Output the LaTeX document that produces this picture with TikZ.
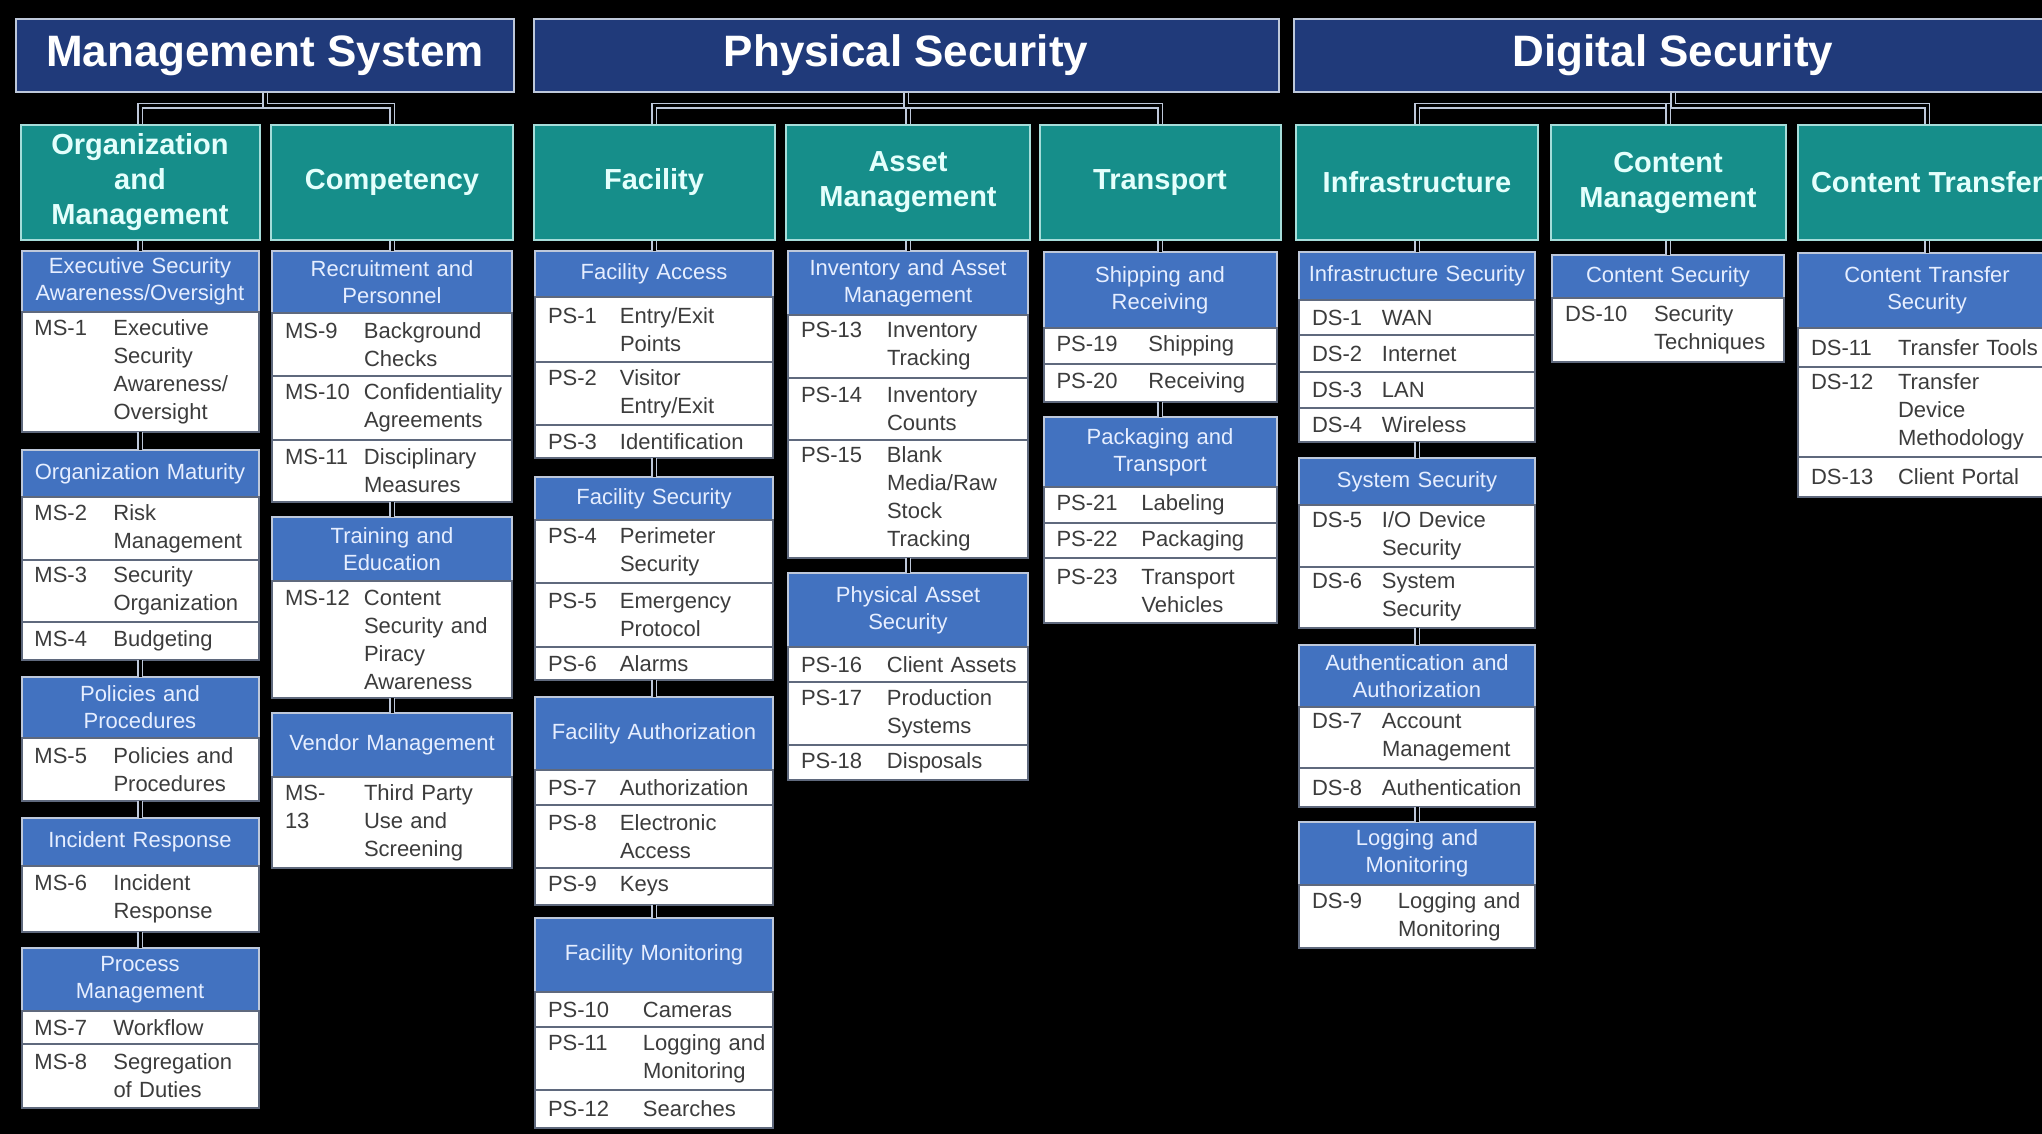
\documentclass[tikz,border=0pt]{standalone}
\usepackage{fontspec}
\setmainfont{Liberation Sans}
\usetikzlibrary{positioning}

\definecolor{navy}{RGB}{32,58,122}
\definecolor{rim}{RGB}{190,200,218}
\definecolor{areateal}{RGB}{22,142,138}
\definecolor{areatext}{RGB}{228,255,252}
\definecolor{subblue}{RGB}{66,114,192}
\definecolor{subtext}{RGB}{230,238,255}
\definecolor{rowline}{RGB}{95,105,125}
\definecolor{rowtext}{RGB}{60,60,60}

% control row: id column (#1 wide, from the box edge), then its text
\newcommand{\itm}[3]{\parbox[t]{#1pt}{\leftskip=13pt\relax #2}%
  \parbox[t]{\dimexpr\hsize-#1pt-4pt\relax}{\raggedright #3}}

\begin{document}
\begin{tikzpicture}[x=1pt, y=-1pt,
    topbox/.style={draw=rim, line width=2, fill=navy, text=white, anchor=north,
      inner ysep=0, minimum height=73, font=\fontsize{44}{50}\selectfont\bfseries},
    areabox/.style={draw=areatext!70!areateal, line width=2, fill=areateal, text=areatext,
      anchor=north, inner ysep=2, minimum height=115, align=center,
      font=\fontsize{29}{35}\selectfont\bfseries},
    subhead/.style={draw=rim, line width=2, fill=subblue, text=subtext, anchor=north,
      outer sep=0, inner xsep=0, inner ysep=2, text width=\colw, align=center,
      font=\fontsize{22}{27}\selectfont},
    ctlrow/.style={draw=rowline, line width=2, fill=white, text=rowtext,
      outer sep=0, inner xsep=0, inner ysep=2, text width=\colw,
      font=\fontsize{22}{28}\selectfont},
    wire/.style={draw=rim, line width=1.5, double=black, double distance=3},
  ]
  \useasboundingbox (0,0) rectangle (2042,1134);
  \clip (0,0) rectangle (2042,1134);
  \fill[black] (0,0) rectangle (2042,1134);

  % Areas
  \node[topbox, minimum width=498] (ms) at (265,18) {Management System};
  \node[topbox, minimum width=745] (ps) at (906,18) {Physical Security};
  \node[topbox, minimum width=758] (ds) at (1673,18) {Digital Security};

  % Organization and Management
  \begin{scope}[xshift=140]
    \def\colw{237pt}
    \node[areabox, minimum width=239] (orgm) at (0,124) {Organization\\and\\Management};
    \node[subhead, minimum height=61, alias=esa-0] (esa) at (0,251) {Executive Security\\Awareness/Oversight};
    \foreach \id/\txt/\h [count=\i, remember=\i as \p (initially 0)] in
      {MS-1/{Executive\\Security\\Awareness/\\Oversight}/120} {
        \node[ctlrow, minimum height=\h, below=0pt of esa-\p] (esa-\i) {\itm{92}{\id}{\txt}};
      }
    \node[subhead, minimum height=47, alias=orm-0] (orm) at (0,450) {Organization Maturity};
    \foreach \id/\txt/\h [count=\i, remember=\i as \p (initially 0)] in
      {MS-2/{Risk\\Management}/63, MS-3/{Security\\Organization}/62, MS-4/Budgeting/38} {
        \node[ctlrow, minimum height=\h, below=0pt of orm-\p] (orm-\i) {\itm{92}{\id}{\txt}};
      }
    \node[subhead, minimum height=61, alias=pp-0] (pp) at (0,677) {Policies and\\Procedures};
    \foreach \id/\txt/\h [count=\i, remember=\i as \p (initially 0)] in
      {MS-5/{Policies and\\Procedures}/63} {
        \node[ctlrow, minimum height=\h, below=0pt of pp-\p] (pp-\i) {\itm{92}{\id}{\txt}};
      }
    \node[subhead, minimum height=48, alias=ir-0] (ir) at (0,818) {Incident Response};
    \foreach \id/\txt/\h [count=\i, remember=\i as \p (initially 0)] in
      {MS-6/{Incident\\Response}/66} {
        \node[ctlrow, minimum height=\h, below=0pt of ir-\p] (ir-\i) {\itm{92}{\id}{\txt}};
      }
    \node[subhead, minimum height=63, alias=pm-0] (pm) at (0,948) {Process\\Management};
    \foreach \id/\txt/\h [count=\i, remember=\i as \p (initially 0)] in
      {MS-7/Workflow/33, MS-8/{Segregation\\of Duties}/64} {
        \node[ctlrow, minimum height=\h, below=0pt of pm-\p] (pm-\i) {\itm{92}{\id}{\txt}};
      }
  \end{scope}

  % Competency
  \begin{scope}[xshift=392]
    \def\colw{240pt}
    \node[areabox, minimum width=242] (comp) at (0,124) {Competency};
    \node[subhead, minimum height=62, alias=rp-0] (rp) at (0,251) {Recruitment and\\Personnel};
    \foreach \id/\txt/\h [count=\i, remember=\i as \p (initially 0)] in
      {MS-9/{Background\\Checks}/63, MS-10/{Confidentiality\\Agreements}/64,
       MS-11/{Disciplinary\\Measures}/62} {
        \node[ctlrow, minimum height=\h, below=0pt of rp-\p] (rp-\i) {\itm{92}{\id}{\txt}};
      }
    \node[subhead, minimum height=64, alias=te-0] (te) at (0,517) {Training and\\Education};
    \foreach \id/\txt/\h [count=\i, remember=\i as \p (initially 0)] in
      {MS-12/{Content\\Security and\\Piracy\\Awareness}/117} {
        \node[ctlrow, minimum height=\h, below=0pt of te-\p] (te-\i) {\itm{92}{\id}{\txt}};
      }
    \node[subhead, minimum height=64, alias=vm-0] (vm) at (0,713) {Vendor Management};
    \foreach \id/\txt/\h [count=\i, remember=\i as \p (initially 0)] in
      {{MS-\\13}/{Third Party\\Use and\\Screening}/91} {
        \node[ctlrow, minimum height=\h, below=0pt of vm-\p] (vm-\i) {\itm{92}{\id}{\txt}};
      }
  \end{scope}

  % Facility
  \begin{scope}[xshift=654]
    \def\colw{238pt}
    \node[areabox, minimum width=241] (facil) at (0,124) {Facility};
    \node[subhead, minimum height=46, alias=fac-0] (fac) at (0,251) {Facility Access};
    \foreach \id/\txt/\h [count=\i, remember=\i as \p (initially 0)] in
      {PS-1/{Entry/Exit\\Points}/65, PS-2/{Visitor\\Entry/Exit}/63, PS-3/Identification/33} {
        \node[ctlrow, minimum height=\h, below=0pt of fac-\p] (fac-\i) {\itm{85}{\id}{\txt}};
      }
    \node[subhead, minimum height=43, alias=fs-0] (fs) at (0,477) {Facility Security};
    \foreach \id/\txt/\h [count=\i, remember=\i as \p (initially 0)] in
      {PS-4/{Perimeter\\Security}/63, PS-5/{Emergency\\Protocol}/64, PS-6/Alarms/33} {
        \node[ctlrow, minimum height=\h, below=0pt of fs-\p] (fs-\i) {\itm{85}{\id}{\txt}};
      }
    \node[subhead, minimum height=73, alias=fau-0] (fau) at (0,697) {Facility Authorization};
    \foreach \id/\txt/\h [count=\i, remember=\i as \p (initially 0)] in
      {PS-7/Authorization/35, PS-8/{Electronic\\Access}/63, PS-9/Keys/37} {
        \node[ctlrow, minimum height=\h, below=0pt of fau-\p] (fau-\i) {\itm{85}{\id}{\txt}};
      }
    \node[subhead, minimum height=74, alias=fm-0] (fm) at (0,918) {Facility Monitoring};
    \foreach \id/\txt/\h [count=\i, remember=\i as \p (initially 0)] in
      {PS-10/Cameras/35, PS-11/{Logging and\\Monitoring}/63, PS-12/Searches/38} {
        \node[ctlrow, minimum height=\h, below=0pt of fm-\p] (fm-\i) {\itm{108}{\id}{\txt}};
      }
  \end{scope}

  % Asset Management
  \begin{scope}[xshift=908]
    \def\colw{240pt}
    \node[areabox, minimum width=244] (asset) at (0,124) {Asset\\Management};
    \node[subhead, minimum height=64, alias=iam-0] (iam) at (0,251) {Inventory and Asset\\Management};
    \foreach \id/\txt/\h [count=\i, remember=\i as \p (initially 0)] in
      {PS-13/{Inventory\\Tracking}/63, PS-14/{Inventory\\Counts}/62,
       PS-15/{Blank\\Media/Raw\\Stock\\Tracking}/118} {
        \node[ctlrow, minimum height=\h, below=0pt of iam-\p] (iam-\i) {\itm{99}{\id}{\txt}};
      }
    \node[subhead, minimum height=74, alias=pas-0] (pas) at (0,573) {Physical Asset\\Security};
    \foreach \id/\txt/\h [count=\i, remember=\i as \p (initially 0)] in
      {PS-16/Client Assets/35, PS-17/{Production\\Systems}/63, PS-18/Disposals/35} {
        \node[ctlrow, minimum height=\h, below=0pt of pas-\p] (pas-\i) {\itm{99}{\id}{\txt}};
      }
  \end{scope}

  % Transport
  \begin{scope}[xshift=1160]
    \def\colw{233pt}
    \node[areabox, minimum width=241] (trans) at (0,124) {Transport};
    \node[subhead, minimum height=76, alias=sr-0] (sr) at (0,252) {Shipping and\\Receiving};
    \foreach \id/\txt/\h [count=\i, remember=\i as \p (initially 0)] in
      {PS-19/Shipping/36, PS-20/Receiving/38} {
        \node[ctlrow, minimum height=\h, below=0pt of sr-\p] (sr-\i) {\itm{105}{\id}{\txt}};
      }
    \node[subhead, minimum height=70, alias=pkt-0] (pkt) at (0,417) {Packaging and\\Transport};
    \foreach \id/\txt/\h [count=\i, remember=\i as \p (initially 0)] in
      {PS-21/Labeling/36, PS-22/Packaging/35, PS-23/{Transport\\Vehicles}/65} {
        \node[ctlrow, minimum height=\h, below=0pt of pkt-\p] (pkt-\i) {\itm{98}{\id}{\txt}};
      }
  \end{scope}

  % Infrastructure
  \begin{scope}[xshift=1417]
    \def\colw{236pt}
    \node[areabox, minimum width=242] (infra) at (0,124) {Infrastructure};
    \node[subhead, minimum height=48, alias=ins-0] (ins) at (0,252) {Infrastructure Security};
    \foreach \id/\txt/\h [count=\i, remember=\i as \p (initially 0)] in
      {DS-1/WAN/35, DS-2/Internet/37, DS-3/LAN/36, DS-4/Wireless/34} {
        \node[ctlrow, minimum height=\h, below=0pt of ins-\p] (ins-\i) {\itm{83}{\id}{\txt}};
      }
    \node[subhead, minimum height=47, alias=sys-0] (sys) at (0,458) {System Security};
    \foreach \id/\txt/\h [count=\i, remember=\i as \p (initially 0)] in
      {DS-5/{I/O Device\\Security}/62, DS-6/{System\\Security}/61} {
        \node[ctlrow, minimum height=\h, below=0pt of sys-\p] (sys-\i) {\itm{83}{\id}{\txt}};
      }
    \node[subhead, minimum height=62, alias=aa-0] (aa) at (0,645) {Authentication and\\Authorization};
    \foreach \id/\txt/\h [count=\i, remember=\i as \p (initially 0)] in
      {DS-7/{Account\\Management}/61, DS-8/Authentication/39} {
        \node[ctlrow, minimum height=\h, below=0pt of aa-\p] (aa-\i) {\itm{83}{\id}{\txt}};
      }
    \node[subhead, minimum height=63, alias=lm-0] (lm) at (0,822) {Logging and\\Monitoring};
    \foreach \id/\txt/\h [count=\i, remember=\i as \p (initially 0)] in
      {DS-9/{Logging and\\Monitoring}/63} {
        \node[ctlrow, minimum height=\h, below=0pt of lm-\p] (lm-\i) {\itm{99}{\id}{\txt}};
      }
  \end{scope}

  % Content Management
  \begin{scope}[xshift=1668]
    \def\colw{232pt}
    \node[areabox, minimum width=235] (cmgmt) at (0,124) {Content\\Management};
    \node[subhead, minimum height=43, alias=cs-0] (cs) at (0,255) {Content Security};
    \foreach \id/\txt/\h [count=\i, remember=\i as \p (initially 0)] in
      {DS-10/{Security\\Techniques}/64} {
        \node[ctlrow, minimum height=\h, below=0pt of cs-\p] (cs-\i) {\itm{102}{\id}{\txt}};
      }
  \end{scope}

  % Content Transfer
  \begin{scope}[xshift=1927]
    \def\colw{258pt}
    \node[areabox, minimum width=258] (ctrans) at (0,124) {Content Transfer};
    \node[subhead, minimum height=75, alias=cts-0] (cts) at (0,253) {Content Transfer\\Security};
    \foreach \id/\txt/\h [count=\i, remember=\i as \p (initially 0)] in
      {DS-11/Transfer Tools/39, DS-12/{Transfer\\Device\\Methodology}/90, DS-13/Client Portal/40} {
        \node[ctlrow, minimum height=\h, below=0pt of cts-\p] (cts-\i) {\itm{100}{\id}{\txt}};
      }
  \end{scope}

  % wires
  \foreach \grp/\area in {ms/orgm, ms/comp, ps/facil, ps/asset, ps/trans, ds/infra, ds/cmgmt, ds/ctrans} {
    \draw[wire] (\grp.south) -- ++(0,13) -| (\area.north);
  }
  \foreach \src/\dst in {orgm/esa, comp/rp, facil/fac, asset/iam, trans/sr, infra/ins, cmgmt/cs,
      ctrans/cts, esa-1/orm, orm-3/pp, pp-1/ir, ir-1/pm, rp-3/te, te-1/vm, fac-3/fs, fs-3/fau,
      fau-3/fm, iam-3/pas, sr-2/pkt, ins-4/sys, sys-2/aa, aa-2/lm} {
    \draw[wire] (\src.south) -- (\dst.north);
  }
\end{tikzpicture}
\end{document}
